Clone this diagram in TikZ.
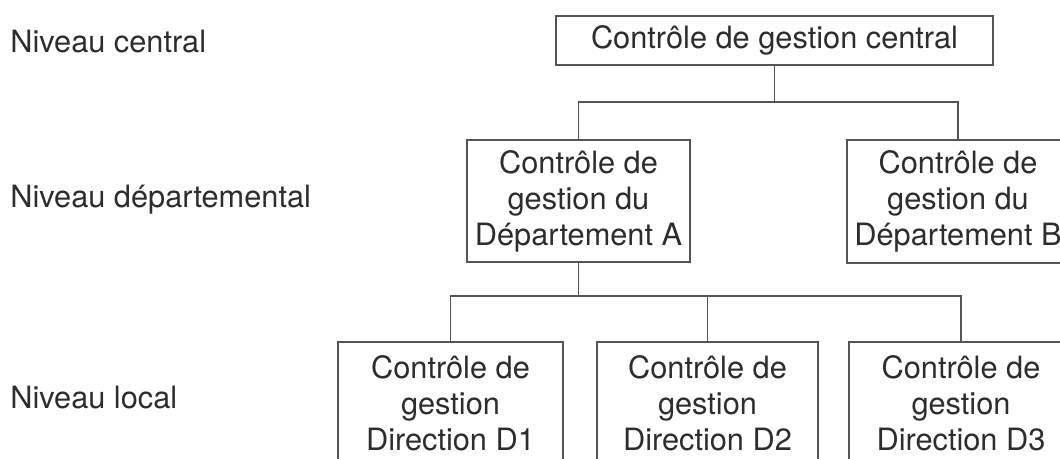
\documentclass[tikz,border=0pt]{standalone}
\usepackage{fontspec}
\setmainfont{TeX Gyre Heros}
\usepackage{tikz}
\usetikzlibrary{positioning}
\definecolor{cgline}{RGB}{85,85,85}
\definecolor{cgtext}{RGB}{45,45,45}

\begin{document}
\begin{tikzpicture}[
  x=0.02cm, y=-0.02cm,
  box/.style={rectangle, draw=cgline, line width=1pt, fill=white, text=cgtext,
    align=center, inner sep=0pt, font=\fontsize{17.5}{20.5}\selectfont},
  lvl/.style={anchor=west, inner sep=0pt, text=cgtext, font=\fontsize{17.5}{20.5}\selectfont},
  link/.style={draw=cgline, line width=1pt}]

\clip (0,0) rectangle (1060,459);

% level labels
\node[lvl] (lc) at (10,42) {Niveau central};
\node[lvl] (ld) at (10,200) {Niveau départemental};
\node[lvl] (ll) at (10,398) {Niveau local};

% boxes
\node[box, minimum width=8.74cm, minimum height=0.98cm] (cgc) at (774.5,40.5)
  {Contrôle de gestion central};
\node[box, minimum width=4.46cm, minimum height=2.44cm] (depa) at (578.5,201)
  {Contrôle de\\gestion du\\Département A};
\node[box, minimum width=4.44cm, minimum height=2.46cm] (depb) at (958,201.5)
  {Contrôle de\\gestion du\\Département B};
\node[box, minimum width=4.5cm, minimum height=2.44cm] (dir1) at (450.5,403)
  {Contrôle de\\gestion\\Direction D1};
\node[box, minimum width=4.42cm, minimum height=2.44cm] (dir2) at (707.5,403)
  {Contrôle de\\gestion\\Direction D2};
\node[box, minimum width=4.48cm, minimum height=2.44cm] (dir3) at (961,403)
  {Contrôle de\\gestion\\Direction D3};

% links
\draw[link] (cgc.south) -- ++(0,36) coordinate (j1);
\draw[link] (j1) -| (depa.north);
\draw[link] (j1) -| (depb.north);
\draw[link] (depa.south) -- ++(0,33) coordinate (j2);
\draw[link] (j2) -| (dir1.north);
\draw[link] (j2) -| (dir2.north);
\draw[link] (j2) -| (dir3.north);
\end{tikzpicture}
\end{document}
